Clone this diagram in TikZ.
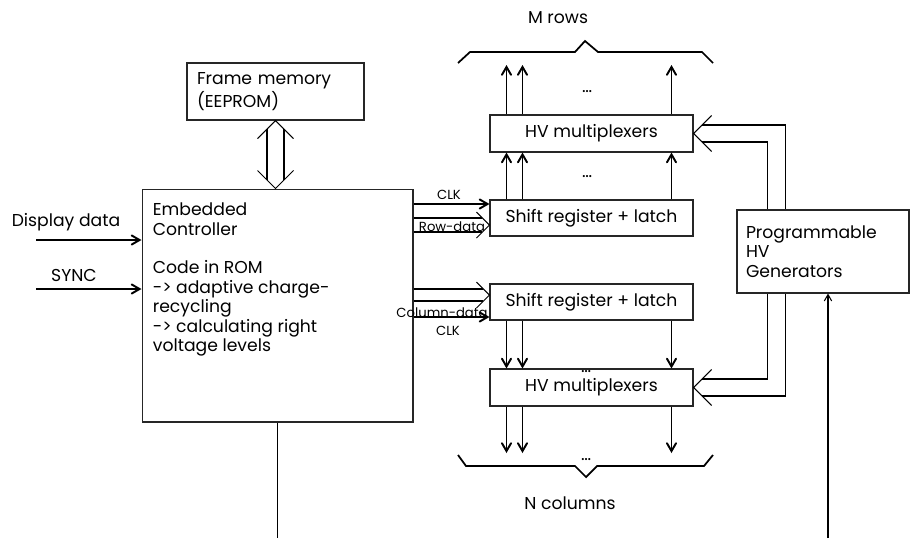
\documentclass[tikz,border=0pt]{standalone}
\usepackage{fontspec}
\setmainfont{Poppins}
\usetikzlibrary{arrows, positioning, calc}
\tikzstyle{block} = [rectangle, draw=black!85, line width=0.6pt, inner sep=0pt]
\tikzstyle{arrow} = [line width=1.1pt, ->, >=angle 60]
\tikzstyle{thinarrow} = [line width=0.6pt, ->, >=angle 60]
\tikzstyle{wire} = [line width=0.6pt]
\tikzstyle{bus} = [line width=1pt]
\tikzstyle{siglabel} = [font=\fontsize{7.5}{8}\selectfont, inner sep=0pt]

\begin{document}
\begin{tikzpicture}[x=0.02cm, y=-0.02cm, every node/.style={font=\fontsize{9.8}{11.1}\selectfont}]
\useasboundingbox (0,0) rectangle (910,538);

\node (mem) [block, minimum width=3.54cm, minimum height=1.14cm, text width=3.14cm, align=left] at (275.5,91.5) {Frame memory\\(EEPROM)};
\node (ctrl) [block, minimum width=5.42cm, minimum height=4.66cm] at (277.5,305.5) {};
\node (ctrltext) [below right=0.28cm and 0.22cm of ctrl.north west, align=left, inner sep=0pt] {Embedded\\Controller\\[11pt]Code in ROM\\-> adaptive charge-\\recycling\\-> calculating right\\voltage levels};

\node (mux1) [block, minimum width=4.06cm, minimum height=0.74cm] at (591.5,133.5) {HV multiplexers};
\node (sr1) [block, minimum width=4.06cm, minimum height=0.72cm] at (591.5,218) {Shift register + latch};
\node (sr2) [block, minimum width=4.06cm, minimum height=0.72cm] at (591.5,302) {Shift register + latch};
\node (mux2) [block, minimum width=4.06cm, minimum height=0.74cm] at (591.5,387.5) {HV multiplexers};
\node (gen) [block, minimum width=3.44cm, minimum height=1.66cm, text width=3.08cm, align=left] at (823,251.5) {Programmable\\HV\\Generators};

\node (ddlabel) at (66,222) {Display data};
\node (synclabel) at (74,275) {SYNC};
\node (mrows) at (558,18) {M rows};
\node (ncols) at (570,503) {N columns};
\node (dotsA) at (587,92) {\ldots};
\node (dotsB) at (587,177) {\ldots};
\node (dotsC) at (586,372) {\ldots};
\node (dotsD) at (586,460) {\ldots};

\node (clklabelA) [siglabel] at (449,195) {CLK};
\node (rowlabel) [siglabel, anchor=base] at (452,231) {Row-data};
\node (collabel) [siglabel, anchor=base] at (442,317) {Column-data};
\node (clklabelB) [siglabel] at (448,331) {CLK};

\coordinate (ddin) at (36,240);
\coordinate (syncin) at (36,289);
\coordinate (ctrlout) at (0,538);
\coordinate (hvin) at (828,538);
\coordinate (toprow) at (0,65);
\coordinate (botrow) at (0,453);

% inputs and outputs of the controller
\draw [arrow] (ddin) -- (ddin -| ctrl.west);
\draw [arrow] (syncin) -- (syncin -| ctrl.west);
\draw [bus] (ctrl.south) -- (ctrl.south |- ctrlout);
\draw [thinarrow] (hvin) -- (hvin |- gen.south);

% memory <-> controller
\coordinate (memtip) at (mem.south);
\coordinate (ctrltip) at (mem.south |- ctrl.north);
\draw [wire] ($(memtip)+(-18,18)$) -- (memtip) -- ($(memtip)+(18,18)$);
\draw [wire] ($(ctrltip)+(-18,-18)$) -- (ctrltip) -- ($(ctrltip)+(18,-18)$);
\draw [wire] ($(memtip)+(-8.5,8.5)$) -- ($(ctrltip)+(-8.5,-8.5)$);
\draw [wire] ($(memtip)+(8.5,8.5)$) -- ($(ctrltip)+(8.5,-8.5)$);

% row side
\coordinate (clkA) at ($(sr1.west)+(0,-14)$);
\coordinate (rowtip) at ($(sr1.west)+(0,7)$);
\draw [arrow] (clkA -| ctrl.east) -- (clkA);
\draw [wire] ($(rowtip)+(-13,-13)$) -- (rowtip) -- ($(rowtip)+(-13,13)$);
\draw [wire] (ctrl.east |- rowtip) ++(0,-7) -- ($(rowtip)+(-7,-7)$);
\draw [wire] (ctrl.east |- rowtip) ++(0,7) -- ($(rowtip)+(-7,7)$);

% column side
\coordinate (coltip) at ($(sr2.west)+(0,-7)$);
\coordinate (clkB) at ($(sr2.west)+(0,15)$);
\draw [wire] ($(coltip)+(-13,-13)$) -- (coltip) -- ($(coltip)+(-13,13)$);
\draw [wire] (ctrl.east |- coltip) ++(0,-6) -- ($(coltip)+(-6,-6)$);
\draw [wire] (ctrl.east |- coltip) ++(0,6) -- ($(coltip)+(-6,6)$);
\draw [arrow] (clkB -| ctrl.east) -- (clkB);

% rows
\draw [arrow] ($(sr1.north west)+(17,0)$) -- ($(mux1.south west)+(17,0)$);
\draw [arrow] ($(sr1.north west)+(33,0)$) -- ($(mux1.south west)+(33,0)$);
\draw [arrow] ($(sr1.north west)+(182,0)$) -- ($(mux1.south west)+(182,0)$);
\draw [arrow] ($(mux1.north west)+(17,0)$) -- ($(mux1.north west |- toprow)+(17,0)$);
\draw [arrow] ($(mux1.north west)+(33,0)$) -- ($(mux1.north west |- toprow)+(33,0)$);
\draw [arrow] ($(mux1.north west)+(182,0)$) -- ($(mux1.north west |- toprow)+(182,0)$);
\draw [bus] (458,63) -- (470,52) -- (575,52) -- (585,41) -- (598,52) -- (702,52) -- (713,63);

% columns
\draw [arrow] ($(sr2.south west)+(17,0)$) -- ($(mux2.north west)+(17,0)$);
\draw [arrow] ($(sr2.south west)+(33,0)$) -- ($(mux2.north west)+(33,0)$);
\draw [arrow] ($(sr2.south west)+(182,0)$) -- ($(mux2.north west)+(182,0)$);
\draw [arrow] ($(mux2.south west)+(17,0)$) -- ($(mux2.south west |- botrow)+(17,0)$);
\draw [arrow] ($(mux2.south west)+(33,0)$) -- ($(mux2.south west |- botrow)+(33,0)$);
\draw [arrow] ($(mux2.south west)+(182,0)$) -- ($(mux2.south west |- botrow)+(182,0)$);
\draw [bus] (458,455) -- (466,466) -- (575,466) -- (586,477) -- (597,466) -- (704,466) -- (713,455);

% HV generators -> multiplexers
\coordinate (genA) at ($(gen.north west)+(31,0)$);
\coordinate (genB) at ($(gen.north west)+(49,0)$);
\coordinate (genC) at ($(gen.south west)+(31,0)$);
\coordinate (genD) at ($(gen.south west)+(49,0)$);
\draw [wire] ($(mux1.east)+(18,-18)$) -- (mux1.east) -- ($(mux1.east)+(18,18)$);
\draw [wire] ($(mux1.east)+(8.5,-8.5)$) -| (genB);
\draw [wire] ($(mux1.east)+(8.5,8.5)$) -| (genA);
\draw [wire] ($(mux2.east)+(18,-18)$) -- (mux2.east) -- ($(mux2.east)+(18,18)$);
\draw [wire] ($(mux2.east)+(8.5,-8.5)$) -| (genC);
\draw [wire] ($(mux2.east)+(8.5,8.5)$) -| (genD);

\end{tikzpicture}
\end{document}
